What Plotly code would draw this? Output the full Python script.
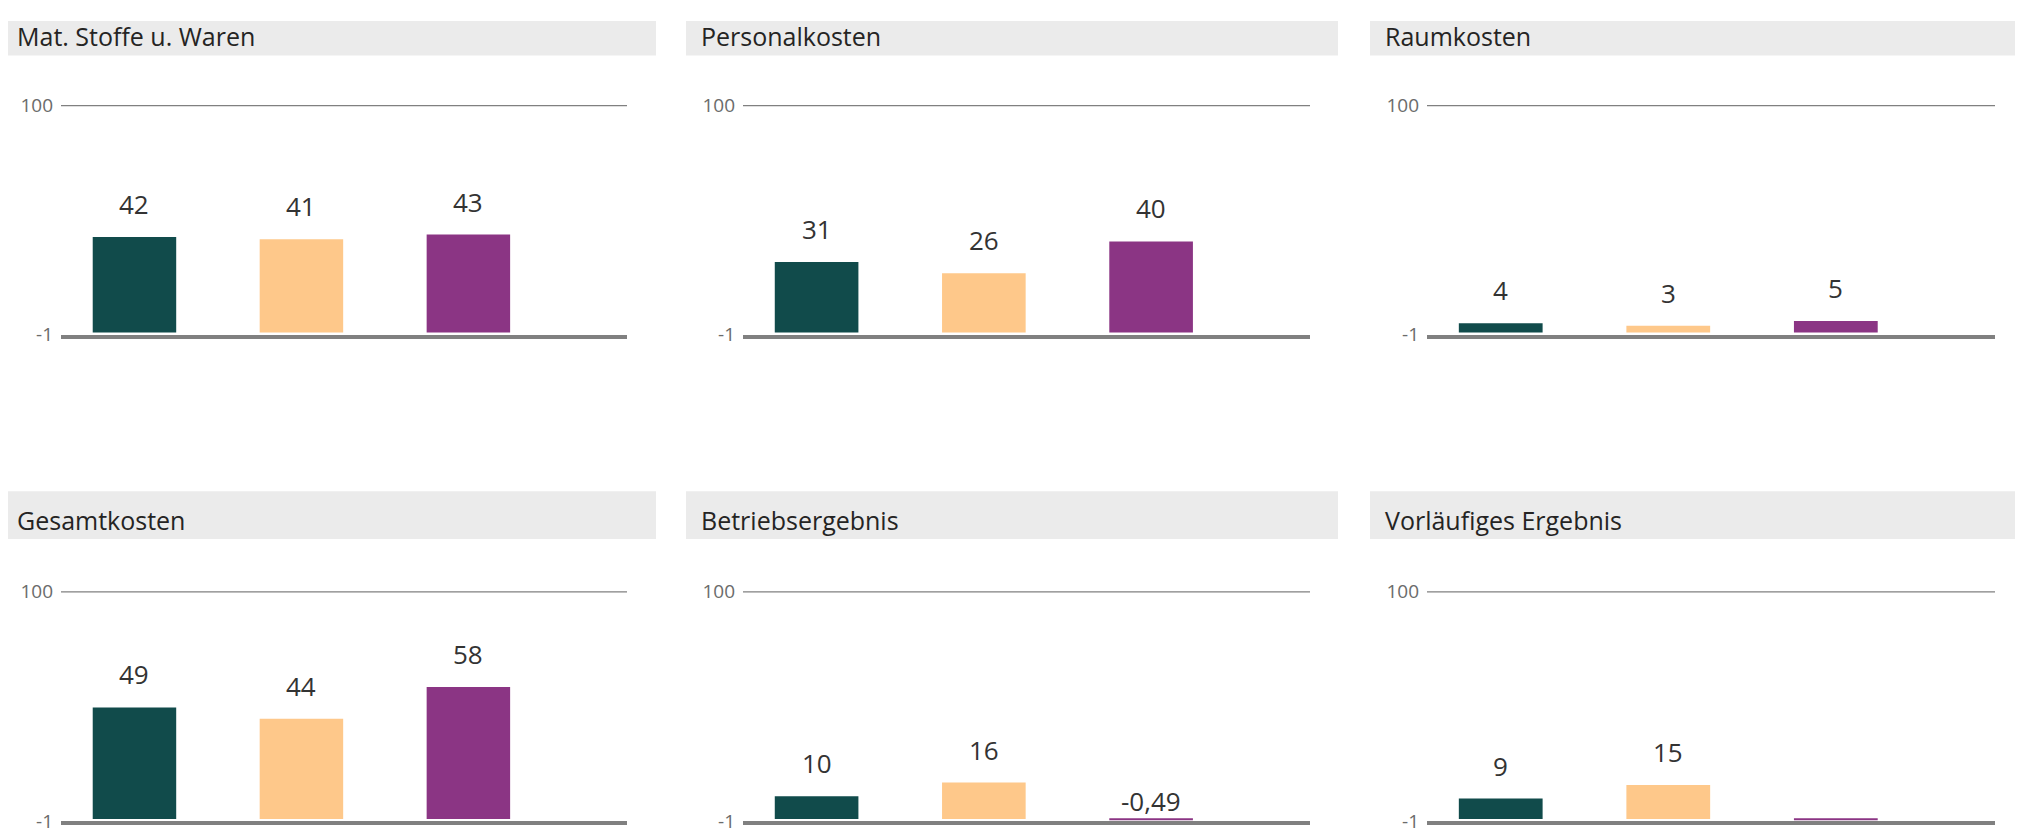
import plotly.graph_objects as go

# ---- data ----
categories = ["Ist", "Vorjahr", "Plan"]
titles = ["Mat. Stoffe u. Waren", "Personalkosten", "Raumkosten",
          "Gesamtkosten", "Betriebsergebnis", "Vorläufiges Ergebnis"]

mat_values = [42, 41, 43]
personal_values = [31, 26, 40]
raum_values = [4, 3, 5]
gesamt_values = [49, 44, 58]
betrieb_values = [10, 16, -0.49]
vorl_values = [9, 15, -0.3]

mat_labels = ["42", "41", "43"]
personal_labels = ["31", "26", "40"]
raum_labels = ["4", "3", "5"]
gesamt_labels = ["49", "44", "58"]
betrieb_labels = ["10", "16", "-0,49"]
vorl_labels = ["9", "15", ""]

y_ticks = [-1, 100]
y_ticktext = ["-1", "100"]

bar_colors = ["#114B4B", "#FEC88A", "#8B3584"]

panels = [
    (mat_values, mat_labels),
    (personal_values, personal_labels),
    (raum_values, raum_labels),
    (gesamt_values, gesamt_labels),
    (betrieb_values, betrieb_labels),
    (vorl_values, vorl_labels),
]

W, H = 2007, 837
FONT = "Open Sans"

# layout geometry (figure pixels)
plot_x = [(53, 619), (735, 1302), (1419, 1987)]
plot_y = [(86.6, 323.8), (588.5, 826)]
head_x = [(-6, 648), (678, 1330), (1362, 2007)]
head_y = [(0, 35.5), (485.4, 534.5)]
title_y = [15, 515]


def px(v):
    return min(max(v, 0), W) / W


def py(v):
    return 1 - min(max(v, 0), H) / H


fig = go.Figure()
layout = dict(
    width=W, height=H,
    margin=dict(l=0, r=0, t=0, b=0),
    paper_bgcolor="white", plot_bgcolor="white",
    showlegend=False,
    font=dict(family=FONT, color="#252423"),
)
shapes, annotations = [], []

for i, (vals, labs) in enumerate(panels):
    r, c = divmod(i, 3)
    n = i + 1
    xa = "x" if n == 1 else f"x{n}"
    ya = "y" if n == 1 else f"y{n}"
    fig.add_trace(go.Bar(
        x=categories, y=vals, xaxis=xa, yaxis=ya,
        marker=dict(color=bar_colors, line=dict(width=0)),
        width=0.5, hoverinfo="skip",
    ))
    for cat, v, t in zip(categories, vals, labs):
        if t:
            annotations.append(dict(
                x=cat, y=max(v, 0), xref=xa, yref=ya, text=t, showarrow=False,
                yanchor="bottom", yshift=13 if v >= 0 else -2,
                font=dict(family=FONT, size=26, color="#333333"),
            ))
    x0, x1 = plot_x[c]
    y0, y1 = plot_y[r]
    layout[("xaxis" if n == 1 else f"xaxis{n}")] = dict(
        domain=[px(x0), px(x1)], anchor=ya, type="category",
        range=[-0.44, 2.95], showticklabels=False, ticks="",
        showgrid=False, zeroline=False, showline=True,
        linecolor="#808080", linewidth=4, layer="below traces",
        fixedrange=True,
    )
    layout[("yaxis" if n == 1 else f"yaxis{n}")] = dict(
        domain=[py(y1), py(y0)], anchor=xa,
        range=[-1, 100], tickvals=y_ticks, ticktext=y_ticktext,
        showgrid=False, zeroline=False, showline=False, ticks="",
        ticklabelstandoff=7,
        tickfont=dict(family=FONT, size=19, color="#6B6B6B"),
        layer="below traces", fixedrange=True,
    )
    # upper reference line at the top tick
    shapes.append(dict(
        type="line", xref=f"{xa} domain", yref=ya,
        x0=0, x1=1, y0=y_ticks[-1], y1=y_ticks[-1],
        line=dict(color="#808080", width=2.5), layer="below",
    ))
    hx0, hx1 = head_x[c]
    hy0, hy1 = head_y[r]
    shapes.append(dict(
        type="rect", xref="paper", yref="paper",
        x0=px(hx0), x1=px(hx1), y0=py(hy1), y1=py(hy0),
        fillcolor="#EBEBEB", line=dict(width=0), layer="below",
    ))
    annotations.append(dict(
        xref="paper", yref="paper", x=px(hx0 + 13), y=py(title_y[r]),
        xanchor="left", yanchor="middle", text=titles[i], showarrow=False,
        font=dict(family=FONT, size=25, color="#252423"),
    ))

layout["shapes"] = shapes
layout["annotations"] = annotations
fig.update_layout(**layout)
fig.write_html("out.html")
